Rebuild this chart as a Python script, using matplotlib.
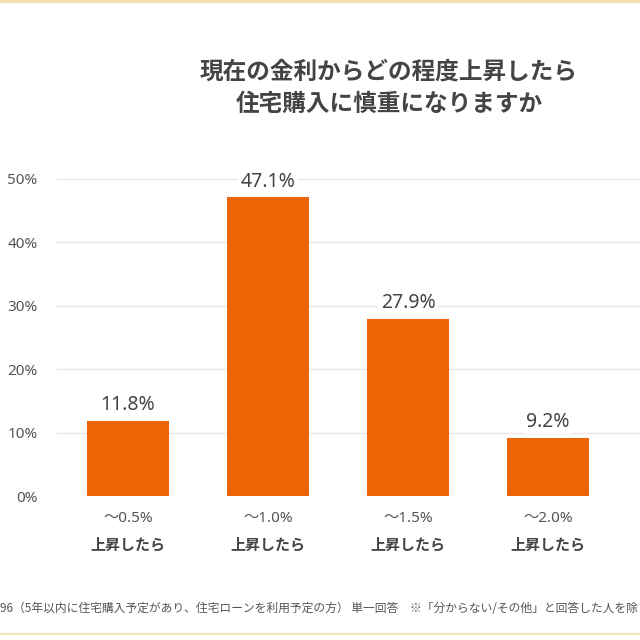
import matplotlib.pyplot as plt
from matplotlib.lines import Line2D

plt.rcParams['font.family'] = ['Noto Sans CJK JP', 'DejaVu Sans']

ranges = ["～0.5%", "～1.0%", "～1.5%", "～2.0%"]
suffix = "上昇したら"
values = [11.8, 47.1, 27.9, 9.2]
yticks = [0, 10, 20, 30, 40, 50]
title = "現在の金利からどの程度上昇したら\n住宅購入に慎重になりますか"
note = "96（5年以内に住宅購入予定があり、住宅ローンを利用予定の方） 単一回答　※「分からない/その他」と回答した人を除く"

bar_color = "#ec6403"
text_color = "#444444"
num_font = ['Noto Sans', 'Noto Sans CJK JP']

fig = plt.figure(figsize=(6.4, 6.4), dpi=100)
ax = fig.add_axes([57/640, 144/640, 583/640, 317/640])

x = list(range(len(values)))
ax.bar(x, values, width=0.586, color=bar_color, zorder=2)
for xi, v in zip(x, values):
    ax.text(xi, v + 0.9, f"{v:.1f}%", ha='center', va='bottom', fontsize=14,
            family=num_font, fontweight='medium', color=text_color, clip_on=False, zorder=3,
            bbox=dict(facecolor='white', edgecolor='none', pad=1.5))

ax.set_xlim(-0.507, 3.657)
ax.set_ylim(0, 50)
ax.set_yticks(yticks)
ax.set_yticklabels([f"{t}%" for t in yticks], fontsize=11, family=num_font, color="#555555")
ax.set_xticks([])
ax.tick_params(axis='both', length=0)
ax.tick_params(axis='y', pad=14)
ax.grid(axis='y', color='#e6e6e6', linewidth=1, zorder=0)
ax.set_axisbelow(True)
for s in ax.spines.values():
    s.set_visible(False)

# カテゴリ名（2段）
trans = ax.get_xaxis_transform()
for xi, r in zip(x, ranges):
    ax.text(xi, -23/317, r, transform=trans, ha='center', va='center', fontsize=11,
            family=num_font, color="#555555", clip_on=False)
    ax.text(xi, -49/317, suffix, transform=trans, ha='center', va='center', fontsize=10.8,
            fontweight='bold', color=text_color, clip_on=False)

fig.text(389/640, 1 - 88/640, title, ha='center', va='center', fontsize=17,
         fontweight='bold', color=text_color, linespacing=1.45)
fig.text(0.0, 1 - 609/640, note, ha='left', va='center', fontsize=8.5, color="#555555")

# 上下の細い枠線
fig.add_artist(Line2D([0, 1], [1 - 1/640, 1 - 1/640], color='#f3dfa8', linewidth=2))
fig.add_artist(Line2D([0, 1], [1 - 634/640, 1 - 634/640], color='#f6e4b5', linewidth=1.5))

fig.savefig("out.png", dpi=100)
